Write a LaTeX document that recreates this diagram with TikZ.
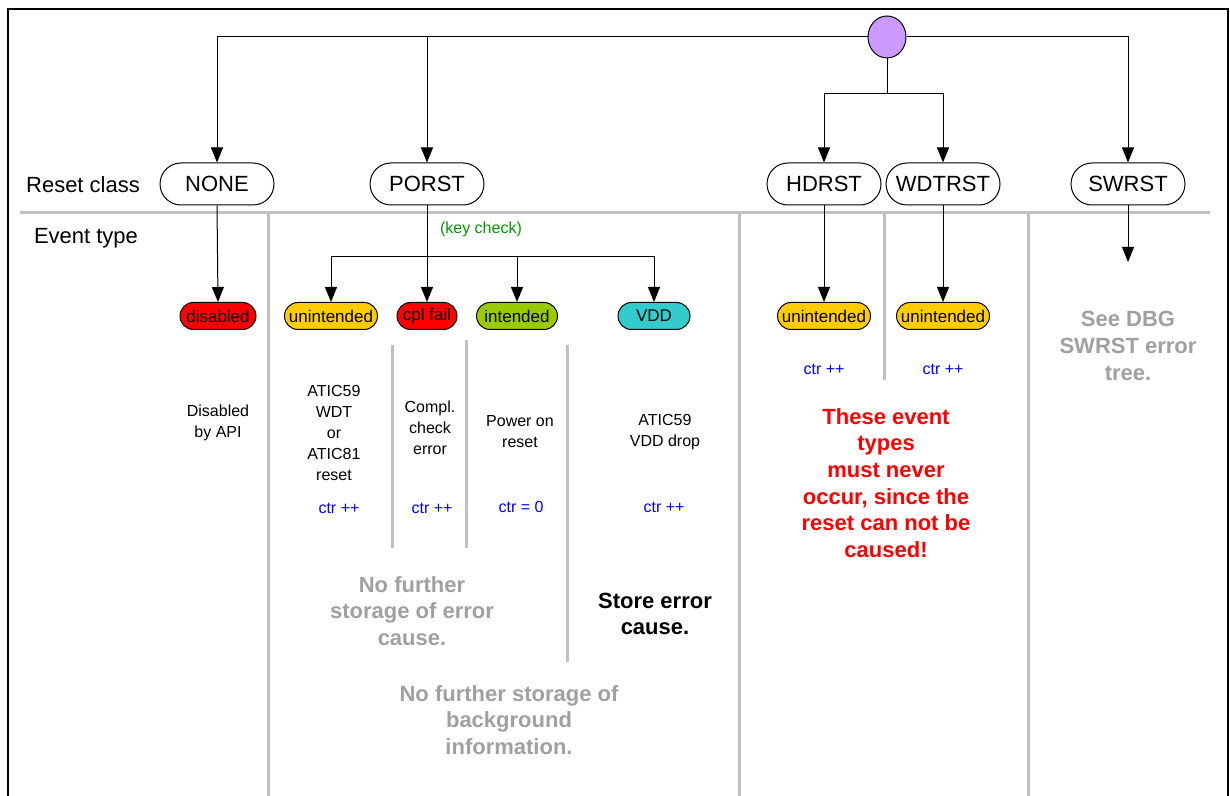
\documentclass[tikz,border=0pt]{standalone}
\usepackage{fontspec}
\setmainfont{Liberation Sans}
\usetikzlibrary{arrows.meta,shapes.misc,shapes.geometric}

\definecolor{rootpurple}{HTML}{CC99FF}
\definecolor{evred}{HTML}{FF0000}
\definecolor{evyellow}{HTML}{FFCC00}
\definecolor{evgreen}{HTML}{99CC00}
\definecolor{evcyan}{HTML}{33CCCC}
\definecolor{sepgray}{HTML}{C0C0C0}
\definecolor{notegray}{HTML}{A0A0A0}
\definecolor{ctrblue}{HTML}{0000FF}
\definecolor{keygreen}{HTML}{009900}

\tikzset{
	resetnode/.style={draw, rounded rectangle, line width=0.5pt, minimum width=57pt, minimum height=21pt, inner sep=0pt, font=\fontsize{11}{13}\selectfont},
	evnode/.style={draw, rounded rectangle, line width=0.5pt, minimum height=13.5pt, inner sep=0pt, font=\fontsize{8.5}{10}\selectfont},
	conn/.style={line width=0.5pt},
	arr/.style={conn, -{Triangle[width=6pt,length=7.5pt]}},
	sep/.style={line width=1.5pt, draw=sepgray},
	info/.style={align=center, font=\fontsize{8}{10.5}\selectfont},
	ctr/.style={text=ctrblue, font=\fontsize{8}{10}\selectfont},
	note/.style={align=center, text=notegray, font=\fontsize{11}{13.3}\selectfont\bfseries},
	warn/.style={note, text=evred},
}

\begin{document}
\begin{tikzpicture}[x=0.5pt, y=-0.5pt]
			%%%%% START %%%%%
			\useasboundingbox (0,0) rectangle (1230,796);
			
			% frame
			\draw[line width=1.4pt] (8,796) -- (8,9) -- (1228,9) -- (1228,796);
			
			% separators
			\draw[sep] (20,213) -- (1210,213);
			\draw[sep] (268,213) -- (268,796);
			\draw[sep] (739,213) -- (739,796);
			\draw[sep] (884,213) -- (884,380);
			\draw[sep] (1028,213) -- (1028,796);
			\draw[sep] (392,345) -- (392,548);
			\draw[sep] (466,340) -- (466,548);
			\draw[sep] (567,345) -- (567,662);
			
			% row labels
			\node[font=\fontsize{11}{13}\selectfont] (lblreset) at (83,185) {Reset class};
			\node[font=\fontsize{11}{13}\selectfont] (lblevent) at (86,238) {Event type};
			
			% root and reset classes
			\node[draw, ellipse, fill=rootpurple, line width=0.5pt, minimum width=19pt, minimum height=21pt, inner sep=0pt] (root) at (887,37) {};
			\node[resetnode] (none) at (217,184) {NONE};
			\node[resetnode] (porst) at (427,184) {PORST};
			\node[resetnode] (hdrst) at (824,184) {HDRST};
			\node[resetnode] (wdtrst) at (943,184) {WDTRST};
			\node[resetnode] (swrst) at (1128,184) {SWRST};
			
			\coordinate (hwsplit) at (887,94);
			\draw[arr] (root.west) -| (none.north);
			\draw[arr] (root.west) -| (porst.north);
			\draw[arr] (root.east) -| (swrst.north);
			\draw[conn] (root.south) -- (hwsplit);
			\draw[arr] (hwsplit) -| (hdrst.north);
			\draw[arr] (hwsplit) -| (wdtrst.north);
			
			% event types
			\node[evnode, fill=evred, minimum width=38pt] (evdis) at (218,316) {disabled};
			\node[evnode, fill=evyellow, minimum width=46.5pt] (evunint) at (331,316) {unintended};
			\node[evnode, fill=evred, minimum width=30pt] (evcpl) at (427,316) {cpl fail};
			\node[evnode, fill=evgreen, minimum width=40.5pt] (evint) at (517,316) {intended};
			\node[evnode, fill=evcyan, minimum width=36pt] (evvdd) at (654,316) {VDD};
			\node[evnode, fill=evyellow, minimum width=46.5pt] (evhd) at (824,316) {unintended};
			\node[evnode, fill=evyellow, minimum width=46.5pt] (evwd) at (943,316) {unintended};
			
			\coordinate (keysplit) at (427,257);
			\coordinate (swend) at (1128,262);
			\draw[arr] (none.south) -- (evdis.north);
			\draw[conn] (porst.south) -- (keysplit);
			\node[anchor=west, text=keygreen, font=\fontsize{8}{10}\selectfont] (keycheck) at (433,229) {(key check)};
			\draw[arr] (keysplit) -| (evunint.north);
			\draw[arr] (keysplit) -- (evcpl.north);
			\draw[arr] (keysplit) -| (evint.north);
			\draw[arr] (keysplit) -| (evvdd.north);
			\draw[arr] (hdrst.south) -- (evhd.north);
			\draw[arr] (wdtrst.south) -- (evwd.north);
			\draw[arr] (swrst.south) -- (swend);
			
			% causes
			\node[info] (txdis) at (218,423) {Disabled\\by API};
			\node[info] (txunint) at (334,433) {ATIC59\\WDT\\or\\ATIC81\\reset};
			\node[info] (txcpl) at (430,428) {Compl.\\check\\error};
			\node[info] (txint) at (520,432) {Power on\\reset};
			\node[info] (txvdd) at (665,432) {ATIC59\\VDD drop};
			
			% counters
			\node[ctr] (ctrunint) at (339,508) {ctr ++};
			\node[ctr] (ctrcpl) at (432,508) {ctr ++};
			\node[ctr] (ctrint) at (521,507) {ctr = 0};
			\node[ctr] (ctrvdd) at (664,507) {ctr ++};
			\node[ctr] (ctrhd) at (824,369) {ctr ++};
			\node[ctr] (ctrwd) at (943,369) {ctr ++};
			
			% remarks
			\node[note] (nocause) at (412,611) {No further\\storage of error\\cause.};
			\node[note, text=black] (store) at (655,614) {Store error\\cause.};
			\node[note] (noback) at (509,720) {No further storage of\\background\\information.};
			\node[note] (dbg) at (1128,346) {See DBG\\SWRST error\\tree.};
			\node[warn] (never) at (886,483) {These event\\types\\must never\\occur, since the\\reset can not be\\caused!};
			%%%%% END %%%%%
\end{tikzpicture}
\end{document}
